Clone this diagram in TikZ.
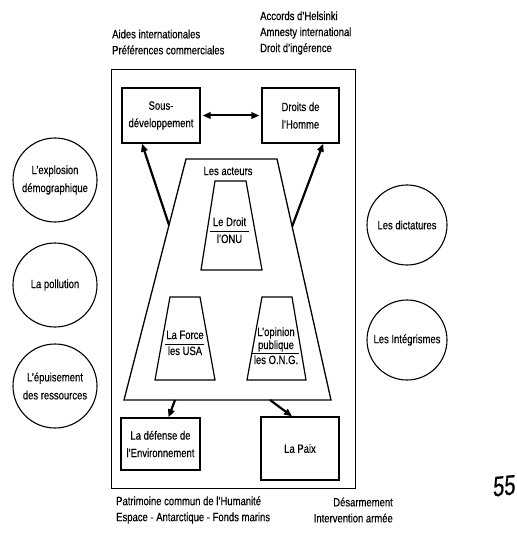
\documentclass[tikz,border=0pt]{standalone}
\usepackage{fontspec}
\setmainfont{Liberation Sans}[FakeStretch=0.79,FakeBold=0.3]
\newfontfamily\handfont{Liberation Sans}[FakeSlant=0.15,FakeStretch=0.72,FakeBold=0.6]
\usetikzlibrary{arrows.meta,calc}

\begin{document}
\begin{tikzpicture}[x=1pt,y=-1pt,
  every node/.style={font=\fontsize{12}{16}\selectfont, inner sep=0pt},
  box/.style={draw, line width=1.3pt, align=center, font=\fontsize{12}{17.5}\selectfont},
  blob/.style={draw, circle, line width=1.1pt, minimum size=84pt, align=center,
    font=\fontsize{12}{18}\selectfont},
  trap/.style={draw, line width=1.2pt, line join=miter},
  inner/.style={text height=8.5pt, text depth=2.5pt},
  rulebar/.style={line width=0.9pt},
  tip/.tip={Triangle[length=8pt,width=6.5pt]},
  link/.style={line width=2.2pt, -tip},
]
\useasboundingbox (0,0) rectangle (516,537);

% outer frame
\node[draw, line width=1pt, minimum width=244pt, minimum height=418pt] (frame) at (233,279) {};

% goal boxes
\node[box, minimum width=78pt, minimum height=55pt] (sd) at (161,115.5) {Sous-\\développement};
\node[box, minimum width=77pt, minimum height=55pt] (dh) at (300.5,115.5) {Droits de\\l'Homme};
\node[box, minimum width=79pt, minimum height=52pt] (env) at (160.5,444) {La défense de\\l'Environnement};
\node[box, minimum width=78pt, minimum height=63pt] (paix) at (300,448.5) {La Paix};

% the actors: large trapezoid
\coordinate (A1) at (186,159);
\coordinate (A2) at (277,159);
\coordinate (A3) at (331,400);
\coordinate (A4) at (124,400);
\draw[trap, line width=1.3pt] (A1) -- (A2) -- (A3) -- (A4) -- cycle;
\node (acteurs) at (228,171) {Les acteurs};

% Le Droit / l'ONU
\draw[trap] (215,181) -- (246,181) -- (262,270) -- (201,270) -- cycle;
\node[inner] (droit) at (229.5,223) {Le Droit};
\node[inner] (onu) at (229.5,240) {l'ONU};
\draw[rulebar] (210,231) -- (249,231);

% La Force / les USA
\draw[trap] (170,297) -- (200,297) -- (215,380) -- (155,380) -- cycle;
\node[inner] (force) at (185,336) {La Force};
\node[inner] (usa) at (185,352) {les USA};
\draw[rulebar] (165,344) -- (204,344);

% L'opinion publique / les O.N.G.
\draw[trap] (262,297) -- (292,297) -- (306,380) -- (247,380) -- cycle;
\node[inner] (opinion) at (276,333) {L'opinion};
\node[inner] (publique) at (276,346) {publique};
\node[inner] (ong) at (276,361) {les O.N.G.};
\draw[rulebar] (251,353) -- (299,353);

% links
\coordinate (pL) at ($(A1)!0.274!(A4)$);
\coordinate (pR) at ($(A2)!0.28!(A3)$);
\coordinate (bL) at (175,400);
\coordinate (bR) at (270,400);
\draw[link] (pL) -- ($(sd.south west)!0.26!(sd.south east)$);
\draw[link] (pR) -- ($(dh.south west)!0.79!(dh.south east)$);
\draw[link] (bL) -- ($(env.north west)!0.6!(env.north east)$);
\draw[link] (bR) -- ($(paix.north west)!0.4!(paix.north east)$);
\draw[line width=2pt, tip-tip, shorten <=2pt, shorten >=2pt] (sd.east) -- (dh.west);

% annotations
\node[anchor=west, align=left] (aides) at (112,42) {Aides internationales\\Préférences commerciales};
\node[anchor=west, align=left] (helsinki) at (260,33) {Accords d'Helsinki\\Amnesty international\\Droit d'ingérence};
\node[anchor=west, align=left] (patri) at (116,510) {Patrimoine commun de l'Humanité\\Espace - Antarctique - Fonds marins};
\node[anchor=east, align=right] (desarm) at (393,510) {Désarmement\\Intervention armée};

% external factors
\node[blob] (c1) at (55,180) {L'explosion\\démographique};
\node[blob] (c2) at (55,285) {La pollution};
\node[blob] (c3) at (55,386) {L'épuisement\\des ressources};
\node[blob, minimum size=80pt] (c4) at (407,225) {Les dictatures};
\node[blob, minimum size=80pt] (c5) at (407,340) {Les Intégrismes};

% page number
\node[font=\handfont\fontsize{28}{28}\selectfont, rotate=6] (pg) at (503,486) {55};
\end{tikzpicture}
\end{document}
